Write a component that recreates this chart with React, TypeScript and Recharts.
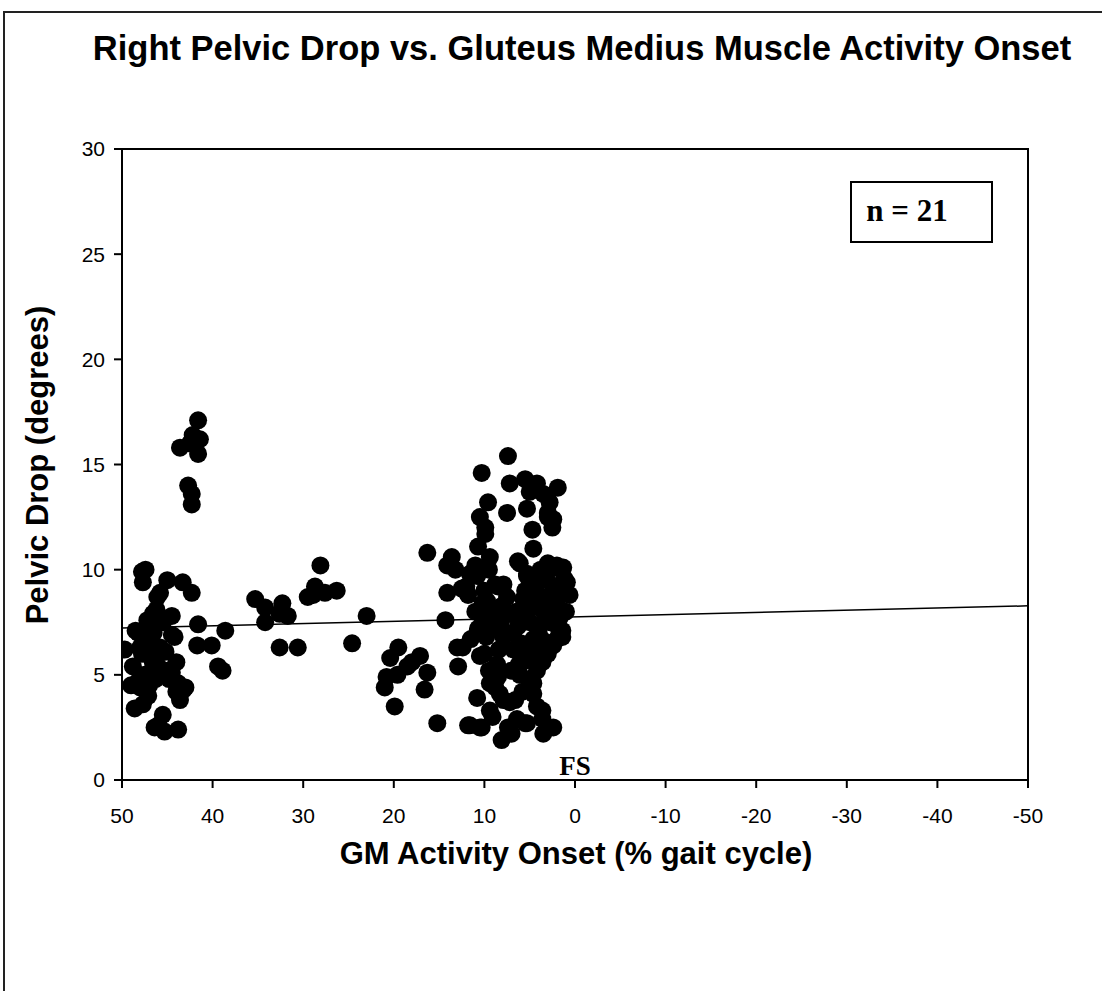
import React from 'react';
import { ScatterChart, Scatter, XAxis, YAxis, ReferenceLine, ReferenceArea } from 'recharts';

type Pt = { x: number; y: number };
const toPts = (a: number[][]): Pt[] => a.map(([x, y]) => ({ x, y }));

const highCluster = [
  [43.6, 15.8], [42.2, 16.4], [41.6, 17.1], [41.4, 16.2], [41.6, 15.5], [42.5, 16.0],
  [42.7, 14.0], [42.3, 13.6], [42.3, 13.1],
];

const leftCluster = [
  [47.8, 9.9], [47.7, 9.4], [47.4, 10.0], [45.0, 9.5], [45.8, 8.9], [46.1, 8.7], [43.3, 9.4], [42.3, 8.9],
  [46.6, 7.9], [44.5, 7.8], [41.6, 7.4], [38.6, 7.1], [48.2, 7.0], [46.7, 7.3], [44.2, 6.8], [41.7, 6.4],
  [40.1, 6.4], [49.7, 6.2], [48.0, 6.3], [45.8, 6.3], [48.8, 5.4], [46.6, 5.6], [44.5, 5.1], [38.9, 5.2],
  [39.4, 5.4], [48.0, 4.4], [43.0, 4.4], [47.1, 4.0], [43.6, 3.8], [48.6, 3.4], [45.5, 3.1], [46.4, 2.5],
  [43.8, 2.4], [45.3, 2.3], [48.5, 7.1], [47.5, 6.9], [47.0, 6.5], [46.5, 7.0], [47.8, 6.0], [46.9, 5.9],
  [46.0, 5.4], [45.5, 5.0], [45.0, 5.2], [44.8, 4.8], [44.0, 4.2], [47.5, 5.0], [48.2, 4.7], [47.0, 4.5],
  [46.3, 4.8], [45.2, 6.1], [44.5, 6.9], [43.8, 4.6], [43.2, 4.3], [44.0, 5.6], [45.5, 7.5], [46.2, 8.1],
  [47.2, 7.6], [49.0, 4.5], [46.0, 2.6], [47.7, 3.6],
];

const middleCluster = [
  [28.1, 10.2], [35.3, 8.6], [34.2, 8.2], [32.3, 8.4], [32.6, 7.9], [31.7, 7.8], [34.2, 7.5], [28.7, 9.2],
  [29.5, 8.7], [27.6, 8.9], [26.3, 9.0], [28.9, 8.8], [32.6, 6.3], [30.6, 6.3], [23.0, 7.8], [24.6, 6.5],
];

const lowMidCluster = [
  [20.4, 5.8], [19.5, 6.3], [17.1, 5.9], [18.5, 5.4], [18.0, 5.6], [20.8, 4.9], [19.6, 5.0], [21.0, 4.4],
  [16.3, 5.1], [16.6, 4.3], [19.9, 3.5], [15.2, 2.7],
];

const rightCluster = [
  [16.3, 10.8], [13.6, 10.6], [14.1, 10.2], [13.2, 10.0], [14.1, 8.9], [11.9, 8.9], [14.3, 7.6], [12.4, 6.3],
  [12.9, 5.4], [10.8, 3.9], [11.8, 2.6], [10.5, 2.5], [13.0, 6.3],
  [7.4, 15.4], [10.3, 14.6], [7.2, 14.1], [9.6, 13.2], [7.5, 12.7], [10.5, 12.5], [9.9, 12.0], [9.9, 11.7],
  [10.7, 11.1], [9.4, 10.6], [11.0, 10.2], [10.8, 9.7], [8.5, 9.2], [11.8, 8.8], [10.2, 8.4],
  [5.5, 14.3], [4.2, 14.1], [1.9, 13.9], [5.0, 13.7], [3.5, 13.6], [2.8, 13.2], [5.3, 12.9], [3.0, 12.7],
  [2.4, 12.4], [2.5, 12.0], [4.7, 11.9], [4.6, 11.0], [6.3, 10.4], [2.4, 10.1], [1.3, 10.1], [3.1, 10.0],
  [5.3, 9.7], [0.9, 9.4], [0.6, 8.8], [3.0, 12.5],
  [10.7, 7.2], [10.5, 5.9], [8.6, 5.5], [9.4, 4.6], [8.3, 4.1], [8.5, 4.9], [7.9, 3.8], [11.6, 2.6],
  [10.3, 2.5], [9.1, 3.0], [8.1, 1.9], [7.4, 2.5], [7.0, 2.2], [5.8, 5.6], [4.7, 5.8], [5.0, 4.8],
  [4.6, 4.1], [5.3, 2.7], [3.6, 3.3], [3.5, 2.2], [2.4, 2.5], [2.0, 6.7], [1.4, 7.1], [1.7, 7.7],
  [4.6, 6.5], [6.1, 5.0], [4.6, 4.6], [4.2, 5.2], [7.2, 3.7], [9.4, 3.3], [6.4, 2.9], [5.5, 2.7],
  [4.2, 3.5], [3.6, 2.9],
  [6.1, 10.3], [5.3, 9.8], [9.7, 8.5], [11.6, 9.8], [8.8, 9.3], [7.9, 9.3], [10.8, 7.0], [5.3, 5.7],
  [2.4, 6.4], [1.4, 6.8], [3.1, 8.2], [4.2, 7.3], [6.3, 7.3], [7.2, 7.9], [7.9, 6.8], [4.6, 6.7],
  [5.7, 8.6], [4.2, 8.9], [3.1, 9.5], [2.4, 9.2],
  [6.5, 8.0], [5.0, 7.5], [4.0, 7.0], [3.5, 8.0], [6.0, 6.5], [5.5, 9.0], [4.5, 9.5], [3.8, 10.0],
  [7.5, 8.7], [8.2, 7.5], [9.0, 7.2], [9.8, 6.8], [10.2, 7.7], [11.0, 8.0], [12.0, 9.2], [11.5, 6.7],
  [6.8, 7.0], [2.8, 7.5], [2.0, 8.4], [1.5, 9.0], [3.0, 6.0], [4.3, 6.0], [5.8, 4.2], [6.6, 3.8],
  [8.8, 4.4], [9.5, 5.2], [10.0, 6.0], [7.0, 5.2], [6.2, 5.5], [1.0, 8.0], [2.0, 10.2], [3.0, 10.3],
  [9.5, 10.0], [10.0, 9.0], [12.5, 9.1],
  [5.8, 7.8], [4.8, 8.2], [3.8, 8.6], [2.6, 8.8], [1.2, 9.6], [3.4, 6.6], [5.2, 6.2], [6.8, 6.2],
  [8.4, 6.2], [9.2, 8.0], [8.0, 8.3], [3.6, 5.6], [1.8, 7.2],
];

const allPoints: Pt[] = [
  ...toPts(highCluster),
  ...toPts(leftCluster),
  ...toPts(middleCluster),
  ...toPts(lowMidCluster),
  ...toPts(rightCluster),
];

const trendLine = [
  { x: 50, y: 7.23 },
  { x: -50, y: 8.28 },
];

const xTicks = [50, 40, 30, 20, 10, 0, -10, -20, -30, -40, -50];
const yTicks = [0, 5, 10, 15, 20, 25, 30];

const sans = '"Liberation Sans", Arial, sans-serif';
const serif = '"Liberation Serif", "Times New Roman", serif';

const Dot = (props: any) => {
  const { cx, cy } = props;
  if (cx == null || cy == null) return null;
  return <circle cx={cx} cy={cy} r={9} fill="#000" />;
};

export default function App() {
  return (
    <div style={{ position: 'absolute', left: 0, top: 0, width: 1102, height: 991, overflow: 'hidden', background: '#fff' }}>
      <div style={{ position: 'absolute', left: 3, top: 11, width: 1120, height: 1020, border: '2px solid #222', boxSizing: 'border-box' }} />
      <div style={{ position: 'absolute', left: 0, width: 1164, top: 28, textAlign: 'center', fontFamily: sans, fontWeight: 'bold', fontSize: 34.5, lineHeight: '40px', color: '#000', whiteSpace: 'nowrap' }}>
        Right Pelvic Drop vs. Gluteus Medius Muscle Activity Onset
      </div>
      <div style={{ position: 'absolute', left: 0, top: 0 }}>
        <ScatterChart width={1102} height={991} margin={{ top: 149, right: 74, bottom: 171, left: 62 }}>
          <XAxis
            type="number"
            dataKey="x"
            domain={[-50, 50]}
            reversed
            ticks={xTicks}
            interval={0}
            height={40}
            tickSize={8}
            tickMargin={20}
            axisLine={{ stroke: '#000', strokeWidth: 2 }}
            tickLine={{ stroke: '#000', strokeWidth: 2 }}
            tick={{ fill: '#000', fontSize: 21, fontFamily: sans }}
            allowDataOverflow
          />
          <YAxis
            type="number"
            dataKey="y"
            domain={[0, 30]}
            ticks={yTicks}
            interval={0}
            width={60}
            tickSize={8}
            tickMargin={9}
            axisLine={{ stroke: '#000', strokeWidth: 2 }}
            tickLine={{ stroke: '#000', strokeWidth: 2 }}
            tick={{ fill: '#000', fontSize: 21, fontFamily: sans }}
            allowDataOverflow
          />
          <ReferenceArea x1={50} x2={-50} y1={0} y2={30} fill="none" fillOpacity={0} stroke="#000" strokeWidth={2} />
          <ReferenceLine segment={trendLine} stroke="#000" strokeWidth={1.5} />
          <Scatter data={allPoints} fill="#000" shape={Dot} isAnimationActive={false} />
        </ScatterChart>
      </div>
      <div style={{ position: 'absolute', left: 850, top: 181, width: 143, height: 62, border: '2px solid #000', boxSizing: 'border-box' }} />
      <div style={{ position: 'absolute', left: 807, width: 200, top: 193, textAlign: 'center', fontFamily: serif, fontWeight: 'bold', fontSize: 31, lineHeight: '36px', color: '#000', whiteSpace: 'nowrap' }}>
        n = 21
      </div>
      <div style={{ position: 'absolute', left: 525, width: 100, top: 751, textAlign: 'center', fontFamily: serif, fontWeight: 'bold', fontSize: 27, lineHeight: '30px', color: '#000' }}>
        FS
      </div>
      <div style={{ position: 'absolute', left: 226, width: 700, top: 835, textAlign: 'center', fontFamily: sans, fontWeight: 'bold', fontSize: 31, lineHeight: '38px', color: '#000', whiteSpace: 'nowrap' }}>
        GM Activity Onset (% gait cycle)
      </div>
      <div style={{ position: 'absolute', left: 38, top: 465, width: 0, height: 0 }}>
        <div style={{ position: 'absolute', left: -300, top: -19, width: 600, textAlign: 'center', transform: 'rotate(-90deg)', fontFamily: sans, fontWeight: 'bold', fontSize: 31, lineHeight: '38px', color: '#000', whiteSpace: 'nowrap' }}>
          Pelvic Drop (degrees)
        </div>
      </div>
    </div>
  );
}
